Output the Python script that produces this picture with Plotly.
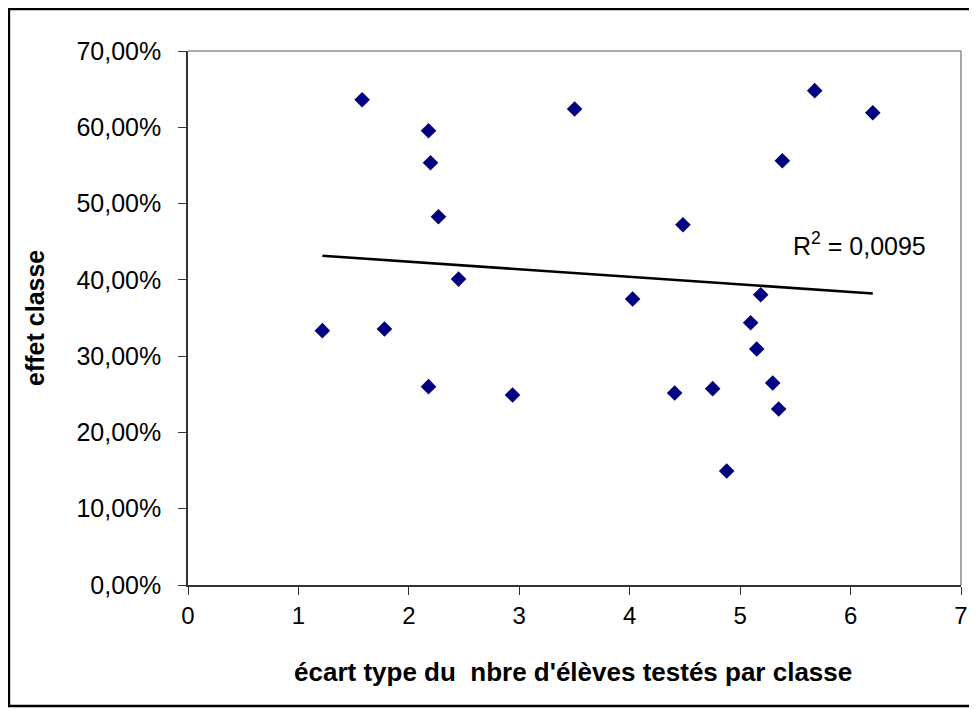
import numpy as np
import plotly.graph_objects as go

# écart type du nbre d'élèves testés par classe
x_vals = [1.217, 1.577, 1.779, 2.178, 2.196, 2.268, 2.45, 2.178, 2.939,
          3.501, 4.026, 4.482, 4.407, 4.751, 4.878, 5.095, 5.15, 5.186,
          5.295, 5.349, 5.675, 6.201, 5.382]
# effet classe (fraction)
y_vals = [0.3334, 0.636, 0.3356, 0.5955, 0.5535, 0.4828, 0.401, 0.260, 0.249,
          0.6239, 0.3749, 0.4723, 0.2517, 0.2574, 0.1494, 0.3438, 0.3093, 0.3805,
          0.2648, 0.2307, 0.648, 0.6191, 0.5562]

x_ticks = [0, 1, 2, 3, 4, 5, 6, 7]
y_ticks = [0, 0.1, 0.2, 0.3, 0.4, 0.5, 0.6, 0.7]
r2_label = "R<sup>2</sup> = 0,0095"
x_title = "écart type du\u00a0 nbre d'élèves testés par classe"
y_title = "effet classe"

# linear trend line
coef = np.polyfit(x_vals, y_vals, 1)
tx = np.array([min(x_vals), max(x_vals)])
ty = np.polyval(coef, tx)

# the page body has an 8px margin, so the figure is drawn offset by 8px
OFF = 8
W, H = 977 - OFF, 709 - OFF
L, T = 188 - OFF, 51 - OFF
R = W - (960.7 - OFF)
B = H - (585 - OFF)
pw = W - L - R
ph = H - T - B

def px_to_paper_x(px):
    return (px - OFF - L) / pw

def py_to_paper_y(py):
    return (H - B - (py - OFF)) / ph

fig = go.Figure()
fig.add_trace(go.Scatter(x=tx, y=ty, mode="lines",
                         line=dict(color="black", width=2.6),
                         hoverinfo="skip", showlegend=False))
fig.add_trace(go.Scatter(x=x_vals, y=y_vals, mode="markers",
                         marker=dict(symbol="diamond", size=12, color="#000080",
                                     line=dict(width=0)),
                         showlegend=False))

font_family = "Liberation Sans, Arial, sans-serif"

fig.update_layout(
    width=W, height=H,
    margin=dict(l=L, r=R, t=T, b=B, autoexpand=False),
    paper_bgcolor="white", plot_bgcolor="white",
    separators=", ",
    font=dict(family=font_family, color="black"),
    xaxis=dict(range=[0, 7], tickvals=x_ticks, showgrid=False, zeroline=False,
               showline=True, linecolor="#333333", linewidth=1.5,
               ticks="outside", ticklen=8, tickwidth=1, tickcolor="#333333",
               tickfont=dict(size=24, family=font_family, color="black")),
    yaxis=dict(range=[0, 0.7], tickvals=y_ticks, tickformat=".2%", showgrid=False,
               zeroline=False, showline=True, linecolor="#333333", linewidth=1.5,
               ticks="outside", ticklen=8, tickwidth=1, tickcolor="#333333",
               ticklabelstandoff=12,
               tickfont=dict(size=25, family=font_family, color="black")),
    shapes=[
        # gray top and right edges of plot area
        dict(type="line", xref="paper", yref="paper", x0=0, x1=1, y0=1, y1=1,
             line=dict(color="#8c8c8c", width=1.5)),
        dict(type="line", xref="paper", yref="paper", x0=1, x1=1, y0=0, y1=1,
             line=dict(color="#8c8c8c", width=1.5)),
        # outer chart border
        dict(type="rect", xref="paper", yref="paper",
             x0=px_to_paper_x(9), x1=px_to_paper_x(975),
             y0=py_to_paper_y(706), y1=py_to_paper_y(9),
             line=dict(color="black", width=2.5), layer="above"),
    ],
    annotations=[
        dict(text=r2_label, x=5.46, y=0.447, xref="x", yref="y",
             xanchor="left", yanchor="middle", showarrow=False,
             font=dict(size=25, family=font_family, color="black")),
        dict(text="<b>" + x_title + "</b>", x=px_to_paper_x(573), y=py_to_paper_y(672),
             xref="paper", yref="paper", xanchor="center", yanchor="middle",
             showarrow=False, font=dict(size=26, family=font_family, color="black")),
        dict(text="<b>" + y_title + "</b>", x=px_to_paper_x(35), y=0.5,
             xref="paper", yref="paper", xanchor="center", yanchor="middle",
             textangle=-90, showarrow=False,
             font=dict(size=25, family=font_family, color="black")),
    ],
)

fig.write_html("out.html")
